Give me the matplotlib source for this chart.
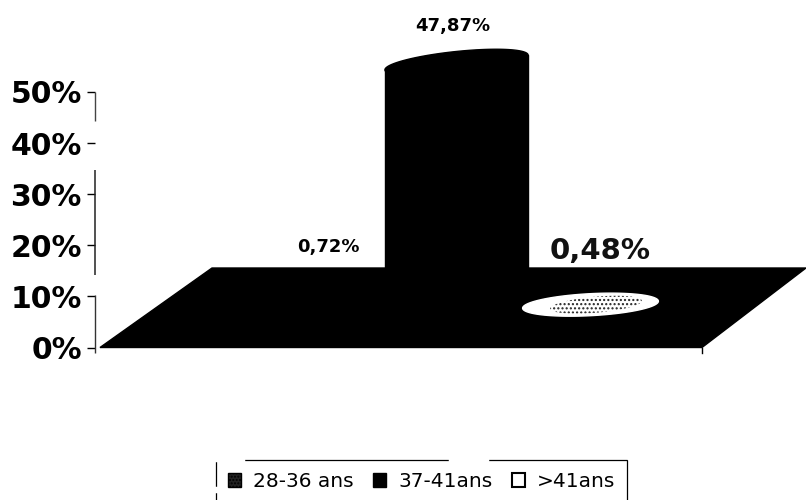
import numpy as np
import matplotlib
matplotlib.use('Agg')
import matplotlib.pyplot as plt
from matplotlib.patches import Patch
from matplotlib.lines import Line2D

plt.rcParams['font.family'] = ['DejaVu Sans']
plt.rcParams['hatch.linewidth'] = 1.0

# values
categories = ['28-36 ans', '37-41ans', '>41ans']
values = [0.72, 47.87, 0.48]
tick_values = [0, 10, 20, 30, 40, 50]
tick_labels = ['0%', '10%', '20%', '30%', '40%', '50%']

W, H = 806, 500
y0_px, y50_px = 347.5, 92
px_per_pct = (y0_px - y50_px) / 50
floor_mid = 7.9
floor_back = (y0_px - 268) / px_per_pct


def tilted_ellipse(cx, cy, a, b, deg):
    # x is in pixels, y in percent, tilt is worked out in pixels
    t = np.linspace(0, 2 * np.pi, 120)
    th = np.radians(deg)
    dx = a * np.cos(t) * np.cos(th) - b * np.sin(t) * np.sin(th)
    dy = a * np.cos(t) * np.sin(th) + b * np.sin(t) * np.cos(th)
    return cx + dx, cy + dy / px_per_pct


fig = plt.figure(figsize=(W / 100, H / 100), dpi=100)
ax = fig.add_axes([95 / W, (H - y0_px) / H, (W - 95) / W, (y0_px - y50_px) / H])
ax.set_xlim(95, W)
ax.set_ylim(0, 50)
for s in ax.spines.values():
    s.set_visible(False)
ax.set_xticks([])
ax.set_yticks(tick_values)
ax.set_yticklabels(tick_labels, fontsize=21.5, fontweight='bold')
ax.tick_params(axis='y', length=5.5, width=1, pad=4)

# broken axis line as in the scan
ax.vlines(95, 44.3, 50, color='#444444', lw=1, clip_on=False)
ax.vlines(95, 14.2, 34.7, color='#222222', lw=1.1, clip_on=False)
ax.vlines(95, -1, 10.2, color='#333333', lw=1, clip_on=False)

# floor
ax.fill([100, 702, 806, 212], [0, 0, floor_back, floor_back], color='black', clip_on=False, zorder=2)
ax.plot([702, 702], [0, -1], color='black', lw=1, clip_on=False)

# first series, black on black so it does not show
ex, ey = tilted_ellipse(250, floor_mid + values[0], 60, 11, 3)
ax.fill(ex, ey, color='black', zorder=3, clip_on=False)

# middle column, top edge follows the tilt of the ellipse
top = floor_mid + values[1]
slant = 7.5 / px_per_pct
ex, ey = tilted_ellipse(456.5, top, 72, 11, 6)
ax.fill_between([385, 528], floor_mid, [top - slant, top + slant], color='black', zorder=3, clip_on=False)
ax.fill(ex, ey, color='black', zorder=3, clip_on=False)

# white disc with the speckle
ex, ey = tilted_ellipse(590.5, floor_mid + values[2], 68, 11, 3)
ax.fill(ex, ey, color='white', zorder=4, clip_on=False)
ex, ey = tilted_ellipse(596, floor_mid + values[2], 46, 8, 5)
ax.fill(ex, ey, facecolor='white', edgecolor='#222222', hatch='....', lw=0, zorder=5, clip_on=False)


def pct(v):
    return f'{v:.2f}%'.replace('.', ',')


# value labels
ax.text(328, 18.0, pct(values[0]), ha='center', va='bottom', fontsize=13, fontweight='bold', clip_on=False)
ax.text(453, 61.2, pct(values[1]), ha='center', va='bottom', fontsize=13, fontweight='bold', clip_on=False)
ax.text(600.5, 16.2, pct(values[2]), ha='center', va='bottom', fontsize=21, fontweight='bold',
        clip_on=False, color='#111111')

# legend
handles = [
    Patch(facecolor='#222222', edgecolor='black', hatch='.....', label=categories[0]),
    Patch(facecolor='black', edgecolor='black', label=categories[1]),
    Patch(facecolor='white', edgecolor='black', lw=1.5, label=categories[2]),
]
leg = fig.legend(handles=handles, ncol=3, loc='upper left', bbox_to_anchor=(216 / W, (H - 460) / H),
                 frameon=True, fancybox=False, edgecolor='black', framealpha=1,
                 prop={'size': 14.5}, borderaxespad=0,
                 handlelength=0.65, handleheight=0.65, handletextpad=0.6, columnspacing=0.95,
                 borderpad=0.6, labelspacing=0.2)
leg.get_frame().set_linewidth(0.9)

# gaps in the legend frame
for xs, ys in [((216, 243), (460, 460)), ((450, 487), (460, 460)), ((216, 216), (488, 491))]:
    fig.add_artist(Line2D([x / W for x in xs], [(H - y) / H for y in ys], color='white', lw=2.5, zorder=10))

fig.savefig('out.png', dpi=100, facecolor='white')
